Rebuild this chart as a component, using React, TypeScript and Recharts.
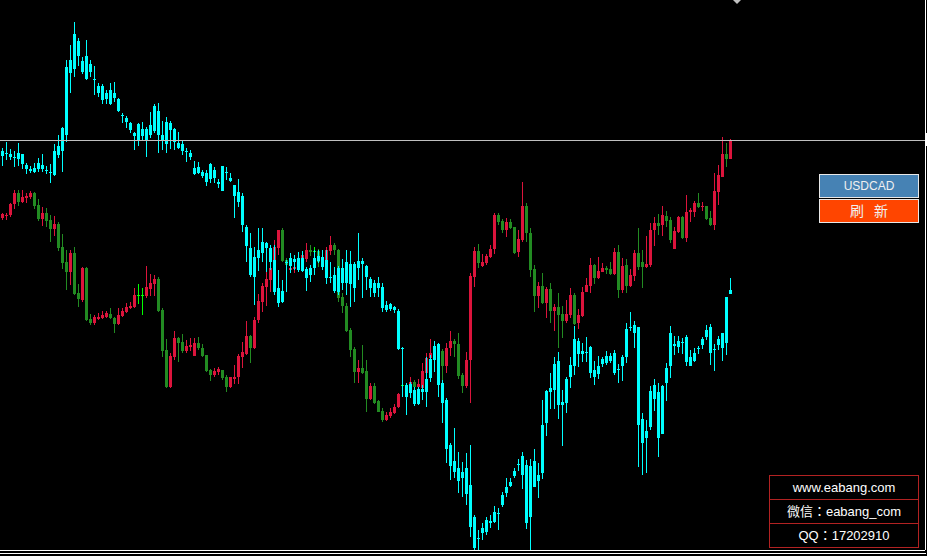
import { Bar, ComposedChart, ReferenceLine, XAxis, YAxis } from 'recharts'

// second symbol (cyan), price in points
const cyOpen = [
  444, 447, 446, 443, 441, 446, 435, 431, 428, 431, 435, 430, 428, 425, 445, 449, 465, 527, 531, 559,
  539, 521, 536, 521, 514, 514, 501, 510, 502, 501, 485, 482, 477, 467, 459, 471, 459, 465, 469, 489,
  465, 456, 477, 471, 457, 456, 449, 447, 432, 427, 428, 427, 421, 430, 418, 409, 428, 422, 415, 408,
  404, 373, 352, 323, 342, 347, 357, 352, 340, 312, 298, 338, 334, 341, 330, 342, 331, 325, 332, 339,
  343, 340, 323, 325, 308, 332, 317, 336, 312, 332, 339, 334, 321, 317, 312, 313, 290, 296, 293, 289,
  252, 215, 207, 210, 196, 211, 208, 222, 240, 256, 217, 200, 155, 139, 132, 122, 132, 115, 83, 62,
  67, 68, 79, 78, 87, 95, 107, 114, 124, 136, 125, 135, 83, 113, 125, 127, 177, 208, 210, 239,
  195, 197, 223, 234, 259, 246, 248, 253, 223, 226, 236, 237, 244, 247, 231, 234, 243, 273, 275, 273,
  181, 162, 173, 215, 208, 166, 217, 234, 256, 253, 258, 263, 234, 239, 252, 255, 263, 273, 251, 255,
  252, 257, 306,
]
const cyHigh = [
  452, 458, 451, 449, 457, 446, 437, 434, 437, 442, 446, 434, 436, 456, 465, 473, 540, 555, 578, 562,
  543, 560, 540, 534, 517, 516, 510, 517, 518, 502, 487, 484, 478, 468, 477, 478, 473, 488, 496, 497,
  479, 483, 479, 472, 468, 459, 452, 450, 439, 438, 430, 430, 437, 433, 421, 434, 433, 427, 415, 421,
  407, 375, 367, 353, 372, 372, 358, 355, 355, 330, 320, 340, 347, 345, 348, 349, 333, 335, 350, 350,
  350, 350, 338, 333, 334, 341, 350, 349, 338, 367, 342, 335, 323, 320, 323, 317, 299, 297, 294, 291,
  253, 217, 218, 213, 213, 215, 243, 245, 259, 257, 220, 202, 157, 172, 148, 138, 147, 155, 85, 70,
  77, 83, 85, 94, 92, 108, 122, 122, 132, 141, 148, 140, 141, 151, 137, 200, 210, 227, 243, 248,
  210, 223, 243, 274, 262, 257, 263, 254, 239, 244, 243, 249, 247, 250, 236, 245, 277, 288, 279, 273,
  187, 180, 214, 221, 217, 215, 237, 274, 264, 264, 262, 265, 250, 252, 254, 263, 275, 276, 256, 264,
  267, 303, 322,
]
const cyLow = [
  434, 440, 440, 433, 434, 431, 426, 427, 427, 428, 428, 426, 417, 424, 442, 428, 458, 507, 523, 534,
  526, 520, 523, 505, 503, 496, 496, 495, 498, 488, 477, 472, 467, 450, 454, 460, 443, 462, 467, 447,
  450, 447, 451, 450, 451, 445, 438, 440, 425, 426, 422, 414, 417, 417, 412, 409, 420, 418, 382, 393,
  368, 338, 323, 295, 329, 338, 328, 330, 305, 293, 297, 308, 327, 330, 328, 328, 309, 318, 325, 337,
  330, 316, 317, 307, 305, 310, 305, 293, 298, 320, 302, 310, 303, 303, 303, 288, 288, 289, 287, 250,
  203, 185, 202, 194, 195, 200, 193, 218, 228, 203, 177, 137, 120, 122, 107, 103, 95, 63, 50, 50,
  60, 65, 72, 77, 70, 93, 103, 113, 122, 129, 111, 71, 50, 113, 102, 121, 164, 191, 191, 181,
  154, 187, 212, 225, 233, 238, 238, 222, 215, 221, 233, 235, 237, 225, 217, 219, 237, 269, 252, 133,
  125, 127, 170, 189, 143, 166, 199, 222, 245, 247, 246, 234, 234, 238, 246, 251, 260, 235, 229, 250,
  239, 245, 306,
]
const cyClose = [
  449, 446, 443, 443, 447, 436, 431, 429, 432, 437, 431, 430, 428, 449, 454, 472, 533, 540, 566, 544,
  528, 544, 528, 521, 507, 500, 507, 496, 507, 489, 485, 478, 470, 464, 476, 464, 471, 475, 494, 465,
  459, 478, 470, 458, 452, 449, 449, 443, 426, 433, 424, 418, 436, 422, 416, 434, 428, 419, 404, 398,
  375, 354, 325, 343, 350, 358, 352, 338, 308, 297, 309, 338, 342, 338, 342, 329, 322, 332, 342, 344,
  333, 322, 323, 309, 332, 317, 338, 316, 336, 339, 336, 323, 312, 307, 317, 292, 295, 291, 290, 251,
  252, 203, 216, 196, 211, 208, 221, 241, 254, 215, 197, 151, 134, 128, 119, 128, 106, 73, 52, 62,
  72, 80, 77, 88, 87, 105, 113, 118, 129, 136, 144, 77, 134, 139, 119, 175, 209, 212, 236, 195,
  198, 221, 235, 261, 246, 249, 248, 227, 230, 234, 241, 244, 239, 227, 231, 243, 271, 273, 267, 175,
  157, 169, 209, 201, 162, 214, 232, 267, 254, 259, 257, 238, 243, 247, 252, 261, 270, 247, 251, 261,
  267, 303, 310,
]

// USDCAD (red up / green down), price in points
const rgOpen = [
  382, 384, 385, 396, 407, 398, 402, 403, 407, 395, 381, 387, 380, 371, 376, 353, 338, 328, 347, 307,
  300, 332, 281, 277, 281, 282, 283, 286, 282, 276, 284, 288, 292, 293, 305, 305, 304, 311, 316, 321,
  290, 250, 213, 243, 262, 258, 249, 253, 244, 257, 252, 245, 230, 225, 228, 230, 223, 213, 221, 223,
  243, 246, 264, 252, 280, 298, 313, 320, 332, 352, 370, 340, 330, 331, 331, 335, 341, 350, 349, 349,
  338, 340, 349, 355, 350, 303, 294, 270, 251, 228, 232, 229, 201, 214, 199, 189, 180, 184, 187, 193,
  215, 206, 216, 218, 213, 212, 227, 242, 248, 243, 249, 234, 252, 259, 256, 225, 214, 240, 323, 349,
  334, 337, 343, 351, 385, 379, 370, 378, 373, 348, 360, 394, 367, 331, 304, 314, 297, 311, 289, 293,
  286, 279, 285, 305, 277, 284, 308, 314, 335, 322, 328, 332, 331, 326, 348, 310, 335, 314, 324, 347,
  338, 333, 335, 370, 377, 375, 384, 380, 351, 368, 383, 362, 388, 388, 397, 393, 394, 382, 375, 408,
  423, 446, 441,
]
const rgHigh = [
  387, 387, 397, 410, 410, 410, 407, 409, 408, 401, 393, 392, 385, 384, 378, 366, 350, 350, 353, 316,
  333, 333, 286, 285, 287, 289, 289, 292, 283, 292, 292, 297, 298, 312, 316, 312, 334, 326, 325, 323,
  292, 261, 247, 269, 263, 266, 260, 262, 262, 263, 256, 245, 231, 232, 233, 230, 225, 223, 235, 246,
  258, 279, 265, 283, 306, 317, 329, 333, 360, 370, 372, 342, 335, 337, 338, 348, 357, 355, 353, 351,
  348, 353, 364, 357, 351, 307, 297, 272, 253, 240, 255, 240, 217, 217, 200, 192, 188, 192, 196, 207,
  217, 216, 223, 220, 221, 237, 247, 261, 250, 257, 251, 257, 269, 261, 267, 227, 248, 327, 353, 356,
  346, 346, 355, 387, 387, 381, 382, 381, 373, 370, 418, 397, 372, 335, 318, 327, 313, 317, 296, 307,
  294, 300, 312, 307, 291, 313, 322, 342, 336, 343, 337, 334, 338, 352, 355, 342, 341, 331, 350, 372,
  350, 364, 377, 383, 386, 394, 389, 383, 373, 384, 384, 405, 392, 399, 407, 398, 394, 389, 427, 435,
  463, 457, 461,
]
const rgLow = [
  380, 380, 383, 391, 394, 397, 397, 401, 391, 379, 374, 373, 358, 364, 349, 331, 310, 315, 305, 293,
  298, 279, 275, 275, 280, 281, 282, 281, 267, 275, 283, 287, 291, 292, 296, 285, 302, 304, 304, 288,
  243, 212, 212, 240, 238, 247, 247, 249, 244, 250, 243, 228, 219, 223, 225, 220, 208, 212, 216, 216,
  232, 245, 237, 251, 277, 288, 294, 308, 330, 345, 338, 333, 329, 327, 329, 332, 338, 344, 343, 333,
  335, 337, 345, 345, 298, 287, 268, 243, 217, 217, 226, 188, 200, 196, 188, 178, 179, 182, 186, 192,
  206, 204, 215, 210, 213, 210, 223, 225, 240, 240, 220, 227, 244, 243, 221, 207, 212, 197, 313, 332,
  333, 335, 342, 346, 375, 367, 363, 371, 346, 343, 358, 358, 323, 288, 292, 296, 282, 277, 269, 252,
  262, 277, 282, 275, 271, 283, 308, 307, 316, 321, 328, 326, 325, 325, 302, 307, 307, 313, 319, 330,
  312, 332, 333, 354, 365, 364, 373, 357, 351, 367, 361, 358, 378, 383, 392, 389, 380, 374, 370, 395,
  423, 433, 441,
]
const rgClose = [
  386, 385, 396, 407, 398, 403, 404, 407, 394, 381, 387, 379, 371, 376, 352, 337, 328, 347, 306, 301,
  332, 280, 277, 283, 283, 285, 287, 282, 276, 285, 289, 293, 294, 305, 305, 305, 313, 317, 321, 289,
  249, 213, 244, 262, 257, 249, 254, 255, 257, 252, 244, 229, 225, 229, 231, 222, 213, 223, 223, 244,
  248, 264, 252, 280, 299, 314, 321, 332, 353, 370, 339, 335, 332, 333, 335, 345, 350, 348, 349, 338,
  342, 350, 355, 350, 302, 294, 269, 250, 228, 232, 227, 201, 214, 197, 188, 180, 185, 188, 193, 206,
  215, 214, 218, 213, 216, 229, 242, 247, 243, 253, 234, 252, 259, 256, 224, 214, 240, 324, 349, 337,
  338, 344, 351, 385, 378, 370, 378, 372, 347, 361, 394, 367, 330, 304, 314, 297, 311, 289, 293, 285,
  279, 286, 305, 276, 285, 308, 315, 335, 322, 329, 332, 330, 326, 348, 310, 334, 314, 325, 347, 333,
  333, 336, 370, 377, 374, 385, 379, 360, 369, 383, 362, 388, 390, 397, 393, 394, 381, 375, 409, 425,
  446, 441, 460,
]

const priceTicks = [579, 546, 513, 480, 447, 414, 381, 348, 315, 282, 249, 216, 183, 150, 117, 84, 51]
const bidPrice = 460

const data = rgOpen.map((_, i) => ({
  bar: i,
  rg: [rgLow[i], rgHigh[i]],
  rgO: rgOpen[i],
  rgC: rgClose[i],
  cy: [cyLow[i], cyHigh[i]],
  cyO: cyOpen[i],
  cyC: cyClose[i],
}))

const rgColor = (o: number, c: number) => (c > o ? '#DC143C' : c < o ? '#228B22' : '#00FF00')
const cyColor = () => '#00FFFF'

function candle(key: 'rg' | 'cy', colorOf: (o: number, c: number) => string) {
  return (props: any) => {
    const { x, y, width, height, payload } = props
    const [lo, hi] = payload[key]
    const o = payload[key + 'O']
    const c = payload[key + 'C']
    const k = hi > lo ? height / (hi - lo) : 1
    const left = Math.floor(x)
    const w = Math.max(1, Math.round(width))
    const top = y + (hi - Math.max(o, c)) * k
    const bodyH = Math.max(1, Math.abs(o - c) * k)
    const fill = colorOf(o, c)
    return (
      <g>
        <rect x={left + Math.floor(w / 2)} y={y} width={1} height={Math.max(1, height)} fill={fill} />
        <rect x={left} y={top} width={w} height={bodyH} fill={fill} />
      </g>
    )
  }
}

const rgCandle = candle('rg', rgColor)
const cyCandle = candle('cy', cyColor)

const btn = {
  position: 'absolute' as const,
  left: 819,
  width: 98,
  height: 22,
  border: '1px solid #e8e8e8',
  color: '#f0f0f0',
  fontSize: 12,
  lineHeight: '22px',
  textAlign: 'center' as const,
  fontFamily: '"Liberation Sans", "Noto Sans CJK SC", sans-serif',
}

const infoRow = {
  height: 23,
  lineHeight: '23px',
  textAlign: 'center' as const,
  color: '#ffffff',
  fontSize: 13,
}

export default function App() {
  return (
    <div
      style={{
        position: 'fixed', left: 0, top: 0, width: 927, height: 556,
        background: '#000', overflow: 'hidden', shapeRendering: 'crispEdges',
      }}
    >
      <ComposedChart width={927} height={556} data={data} margin={{ top: 0, right: 0, bottom: 0, left: 0 }}>
        <XAxis dataKey="bar" type="category" height={6} tick={false} tickLine={false}
          axisLine={{ stroke: '#ffffff' }} padding={{ left: 0, right: 193 }} />
        <XAxis xAxisId="cy" dataKey="bar" type="category" hide padding={{ left: 0, right: 193 }} />
        <YAxis orientation="right" width={2} domain={[50, 600]} allowDataOverflow ticks={priceTicks}
          interval={0} tick={false} tickSize={3} axisLine={{ stroke: '#ffffff' }} tickLine={{ stroke: '#ffffff' }} />
        <ReferenceLine y={bidPrice} stroke="#c0c0c0" />
        <Bar dataKey="rg" barSize={3} shape={rgCandle} isAnimationActive={false} />
        <Bar xAxisId="cy" dataKey="cy" barSize={3} shape={cyCandle} isAnimationActive={false} />
      </ComposedChart>

      <div style={{ position: 'absolute', left: 0, top: 553, width: 926, height: 1, background: '#ffffff' }} />
      <div style={{ position: 'absolute', left: 925, top: 133, width: 2, height: 13, background: '#ffffff' }} />
      <div style={{
        position: 'absolute', left: 733, top: 0, width: 0, height: 0,
        borderLeft: '4px solid transparent', borderRight: '4px solid transparent', borderTop: '4px solid #c0c0c0',
      }} />

      <div style={{ ...btn, top: 174, background: '#4682B4' }}>USDCAD</div>
      <div style={{ ...btn, top: 199, background: '#FF4500', fontSize: 14, wordSpacing: 6 }}>刷 新</div>

      <div style={{
        position: 'absolute', left: 769, top: 475, width: 148, border: '1px solid #B22222',
        fontFamily: '"Liberation Sans", "Noto Sans CJK TC", sans-serif',
      }}>
        <div style={infoRow}>www.eabang.com</div>
        <div style={{ ...infoRow, borderTop: '1px solid #B22222' }}>微信：eabang_com</div>
        <div style={{ ...infoRow, borderTop: '1px solid #B22222' }}>QQ：17202910</div>
      </div>
    </div>
  )
}
